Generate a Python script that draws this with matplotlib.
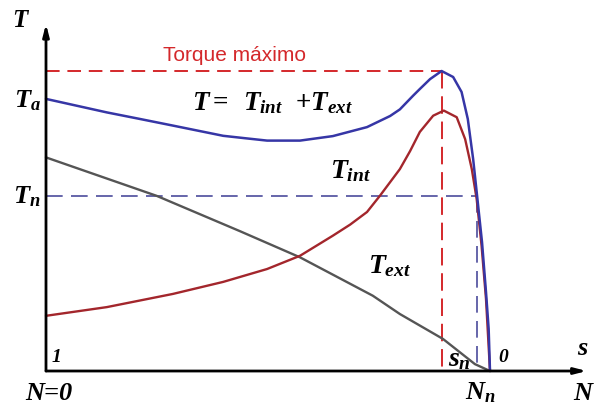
import matplotlib
matplotlib.use("Agg")
import matplotlib.pyplot as plt

# speed N (p.u. of synchronous speed) and torque T (p.u. of maximum torque)
n_ext = [0.0, 0.249, 0.437, 0.572, 0.736, 0.797, 0.894, 0.966, 1.0]
t_ext = [0.712, 0.584, 0.466, 0.379, 0.251, 0.190, 0.107, 0.023, 0.0]

n_int = [0.0, 0.137, 0.286, 0.399, 0.498, 0.572, 0.646, 0.685, 0.723, 0.752, 0.797,
         0.820, 0.842, 0.872, 0.896, 0.925, 0.944, 0.959, 0.970, 0.981, 0.991, 1.0]
t_int = [0.184, 0.213, 0.257, 0.297, 0.340, 0.384, 0.451, 0.488, 0.530, 0.584, 0.673,
         0.733, 0.797, 0.851, 0.868, 0.846, 0.773, 0.673, 0.573, 0.418, 0.240, 0.0]

n_tot = [0.0, 0.137, 0.212, 0.286, 0.399, 0.448, 0.498, 0.572, 0.646, 0.723, 0.775,
         0.797, 0.827, 0.842, 0.865, 0.891, 0.917, 0.936, 0.950, 0.962, 0.971, 0.982,
         0.991, 0.997, 1.0]
t_tot = [0.907, 0.862, 0.840, 0.818, 0.784, 0.776, 0.768, 0.768, 0.783, 0.813, 0.850,
         0.872, 0.918, 0.940, 0.973, 1.0, 0.980, 0.930, 0.840, 0.707, 0.583, 0.430,
         0.263, 0.140, 0.0]

T_max, N_tmax = 1.0, 0.892
T_n, N_n = 0.583, 0.971

plt.rcParams["mathtext.fontset"] = "custom"
plt.rcParams["mathtext.it"] = "Liberation Serif:italic:bold"
plt.rcParams["mathtext.rm"] = "Liberation Serif:bold"
plt.rcParams["mathtext.bf"] = "Liberation Serif:italic:bold"

fig = plt.figure(figsize=(5.97, 4.06), dpi=100)
ax = fig.add_axes([0, 0, 1, 1])
ax.set_xlim(-0.1036, 1.241)
ax.set_ylim(-0.1133, 1.24)
ax.axis("off")

red_d, blue_d = "#d4282b", "#4b4b9c"
ax.plot([0, N_tmax], [T_max, T_max], color=red_d, lw=1.4, ls=(0, (7, 4)))
ax.plot([N_tmax, N_tmax], [T_max, 0], color=red_d, lw=1.4, ls=(0, (9, 4)))
ax.plot([0, N_n], [T_n, T_n], color=blue_d, lw=1.2, ls=(0, (10, 5)))
ax.plot([N_n, N_n], [T_n, 0], color=blue_d, lw=1.2, ls=(0, (10, 5)))

curve = dict(solid_joinstyle="round", solid_capstyle="round")
ax.plot(n_ext, t_ext, color="#555555", lw=1.7, **curve)
ax.plot(n_int, t_int, color="#a3262c", lw=1.7, **curve)
ax.plot(n_tot, t_tot, color="#3636a6", lw=1.8, **curve)

# axes with arrow heads
arr = dict(arrowstyle="-|>,head_length=0.7,head_width=0.18", lw=2, color="black",
           shrinkA=0, shrinkB=0)
ax.annotate("", xy=(0, 1.157), xytext=(0, 0), arrowprops=arr)
ax.annotate("", xy=(1.218, 0), xytext=(0, 0), arrowprops=arr)

serif = dict(family="Liberation Serif", style="italic", weight="bold", color="black")
ax.text(-0.059, 1.173, "T", ha="center", va="center", fontsize=18, **serif)
ax.text(0.264, 1.037, "Torque máximo", family="Liberation Sans", fontsize=15,
        color=red_d, ha="left", va="baseline")
ax.text(-0.012, 0.883, r"$T_{a}$", ha="right", va="baseline", fontsize=19)
ax.text(-0.012, 0.563, r"$T_{n}$", ha="right", va="baseline", fontsize=19)
ax.text(0.329, 0.873, r"$T{=}\ \,T_{int}\ \ {+}T_{ext}$", ha="left", va="baseline",
        fontsize=19.5)
ax.text(0.640, 0.647, r"$T_{int}$", ha="left", va="baseline", fontsize=20)
ax.text(0.725, 0.330, r"$T_{ext}$", ha="left", va="baseline", fontsize=20)
ax.text(0.0135, 0.033, "1", ha="left", va="baseline", fontsize=14, **serif)
ax.text(1.018, 0.033, "0", ha="left", va="baseline", fontsize=14, **serif)
ax.text(0.905, 0.020, r"$s_{n}$", ha="left", va="baseline", fontsize=20)
ax.text(1.196, 0.057, "s", ha="left", va="baseline", fontsize=19, **serif)
ax.text(-0.047, -0.093, "N=0", ha="left", va="baseline", fontsize=19, **serif)
ax.text(0.944, -0.09, r"$N_{n}$", ha="left", va="baseline", fontsize=19)
ax.text(1.187, -0.093, "N", ha="left", va="baseline", fontsize=19, **serif)

fig.savefig("out.png", dpi=100)
